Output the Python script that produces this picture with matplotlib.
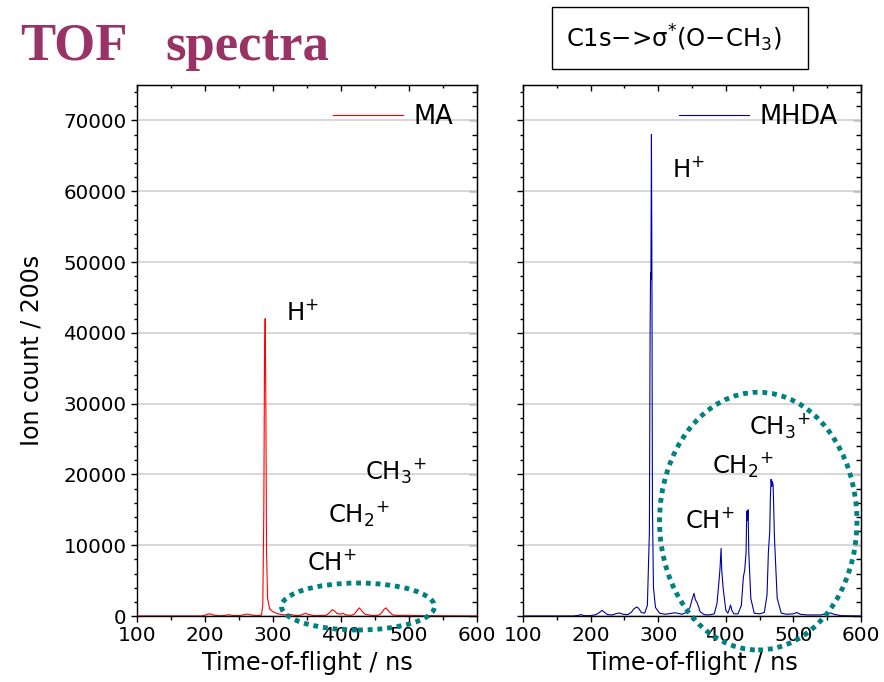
import matplotlib
matplotlib.use('Agg')
import matplotlib.pyplot as plt
from matplotlib.patches import Ellipse, Rectangle
from matplotlib.ticker import MultipleLocator

# MA spectrum (time-of-flight ns, ion count)
ma_tof = [100, 195, 200, 205, 209, 214, 222, 230, 235, 240, 250, 256, 262, 268, 276,
          283, 285, 286.5, 287.5, 288.5, 289.5, 290.5, 292, 295, 300, 306, 315, 320,
          326, 332, 340, 344, 348, 352, 360, 378, 383, 387, 390, 394, 399, 403, 407,
          415, 420, 424, 427, 430, 435, 445, 455, 459, 463, 466, 470, 476, 485, 500,
          510, 525, 545, 600]
ma_counts = [0, 0, 120, 300, 280, 100, 40, 90, 190, 80, 60, 150, 280, 150, 60,
             120, 1500, 15000, 36000, 42000, 30000, 9000, 2500, 1000, 600, 350, 150, 200,
             220, 80, 100, 250, 380, 220, 60, 100, 450, 900, 750, 380, 250, 380, 150,
             100, 300, 850, 1150, 800, 250, 80, 100, 350, 900, 1150, 700, 150, 80, 100,
             60, 50, 30, 0]

# MHDA spectrum
mhda_tof = [100, 175, 182, 186, 190, 200, 208, 213, 217, 220, 225, 232, 238, 243, 248,
            255, 260, 264, 268, 271, 275, 280, 284, 287, 288, 288.7, 289.2, 290, 290.8,
            291.5, 293, 296, 302, 310, 318, 324, 328, 335, 342, 347, 350, 353, 355,
            358, 362, 368, 375, 383, 387, 390, 391.5, 393, 394, 396, 400, 403, 405,
            407, 409, 412, 418, 423, 426, 428, 430, 431, 432, 433, 434, 437, 442, 450,
            457, 461, 463, 465, 466, 467, 468, 469, 470, 472, 476, 482, 490, 500, 505,
            510, 520, 540, 550, 555, 560, 570, 600]
mhda_counts = [0, 0, 100, 200, 50, 50, 200, 500, 800, 550, 200, 150, 350, 420, 250,
               200, 500, 1000, 1270, 1100, 500, 400, 1500, 12000, 40000, 48500, 47500, 68000, 45000,
               15000, 4000, 1200, 400, 250, 350, 450, 400, 250, 500, 1200, 2300, 3200, 2300,
               1800, 600, 200, 150, 300, 1800, 5000, 6800, 9550, 6500, 4000, 800, 400, 900,
               1550, 800, 300, 300, 1500, 5500, 6500, 9000, 14800, 13500, 15000, 9000, 2500, 400, 300,
               500, 3000, 9000, 12000, 17000, 19300, 18300, 19000, 18500, 11000, 2500, 400, 250, 300, 500,
               250, 150, 150, 350, 420, 250, 50, 0]

teal = '#008080'


def style_axes(ax, show_ylabels):
    ax.set_xlim(100, 600)
    ax.set_ylim(0, 75000)
    ax.xaxis.set_major_locator(MultipleLocator(100))
    ax.xaxis.set_minor_locator(MultipleLocator(50))
    ax.yaxis.set_major_locator(MultipleLocator(10000))
    ax.yaxis.set_minor_locator(MultipleLocator(2000))
    ax.tick_params(axis='x', which='major', direction='out', length=4.5, width=1,
                   labelsize=14.5, pad=3, top=False)
    ax.tick_params(axis='x', which='minor', direction='out', length=3, width=1, top=False)
    ax.tick_params(axis='y', which='major', direction='out', length=4.5, width=1,
                   labelsize=14.3, pad=3, right=False, labelleft=show_ylabels)
    ax.tick_params(axis='y', which='minor', direction='out', length=2.5, width=1, right=False)
    ax.grid(axis='y', which='major', color='#d4d4d4', lw=1.3)
    ax.set_axisbelow(True)
    for s in ax.spines.values():
        s.set_linewidth(1.0)

    top = ax.secondary_xaxis('top')
    top.xaxis.set_major_locator(MultipleLocator(100))
    top.xaxis.set_minor_locator(MultipleLocator(50))
    top.tick_params(which='major', direction='in', length=4, width=1, labeltop=False)
    top.tick_params(which='minor', direction='in', length=2.5, width=1)
    right = ax.secondary_yaxis('right')
    right.yaxis.set_major_locator(MultipleLocator(10000))
    right.yaxis.set_minor_locator(MultipleLocator(2000))
    right.tick_params(which='major', direction='in', length=6, width=1, labelright=False)
    right.tick_params(which='minor', direction='in', length=3.5, width=1)

    ax.set_xlabel('Time-of-flight / ns', fontsize=17.3, labelpad=4)


fig = plt.figure(figsize=(8.84, 6.82), dpi=100)
ax1 = fig.add_axes([137 / 884, 66 / 682, 340 / 884, 531 / 682])
ax2 = fig.add_axes([523 / 884, 66 / 682, 338 / 884, 531 / 682])

style_axes(ax1, True)
style_axes(ax2, False)

ax1.plot(ma_tof, ma_counts, color='#ff0000', lw=0.8, label='MA')
ax2.plot(mhda_tof, mhda_counts, color='#0000a8', lw=0.8, label='MHDA')

ax1.set_ylabel('Ion count / 200s', fontsize=17)
ax1.yaxis.set_label_coords(-0.275, 0.5)

for ax, xr in ((ax1, 0.93), (ax2, 0.932)):
    ax.legend(loc='upper right', bbox_to_anchor=(xr, 0.965), frameon=False,
              fontsize=18.5, handlelength=2.75, handletextpad=0.4,
              borderpad=0, borderaxespad=0)

# ion labels
fs = 17.5
ax1.text(319, 41770, 'H$^{+}$', fontsize=fs, va='baseline')
ax1.text(435, 19190, 'CH$_{3}$$^{+}$', fontsize=fs, va='baseline')
ax1.text(381, 13120, 'CH$_{2}$$^{+}$', fontsize=fs, va='baseline')
ax1.text(350, 6490, 'CH$^{+}$', fontsize=fs, va='baseline')
ax2.text(321, 61950, 'H$^{+}$', fontsize=fs, va='baseline')
ax2.text(435, 25540, 'CH$_{3}$$^{+}$', fontsize=fs, va='baseline')
ax2.text(380, 20040, 'CH$_{2}$$^{+}$', fontsize=fs, va='baseline')
ax2.text(340, 12460, 'CH$^{+}$', fontsize=fs, va='baseline')

# dotted ellipses
ax1.add_patch(Ellipse((425, 1340), 225, 6630, fill=False, ec=teal, lw=3.5,
                      ls=(0, (1, 1)), clip_on=False, zorder=5))
ax2.add_patch(Ellipse((448, 13400), 292, 36400, fill=False, ec=teal, lw=3.5,
                      ls=(0, (1, 1)), clip_on=False, zorder=5))

# title and box
fig.text(20 / 884, 1 - 60 / 682, 'TOF', ha='left', va='baseline', fontsize=38,
         fontfamily='Liberation Serif', fontweight='bold', color='#993366')
fig.text(165 / 884, 1 - 60 / 682, 'spectra', ha='left', va='baseline', fontsize=38,
         fontfamily='Liberation Serif', fontweight='bold', color='#993366')
fig.patches.append(Rectangle((552 / 884, 1 - 69.3 / 682), 256 / 884, 62 / 682,
                             transform=fig.transFigure, fill=False, ec='black', lw=1))
fig.text(674 / 884, 1 - 47 / 682, 'C1s−>σ$^{*}$(O−CH$_{3}$)', ha='center',
         va='baseline', fontsize=17.5)

fig.savefig('out.png', dpi=100)
